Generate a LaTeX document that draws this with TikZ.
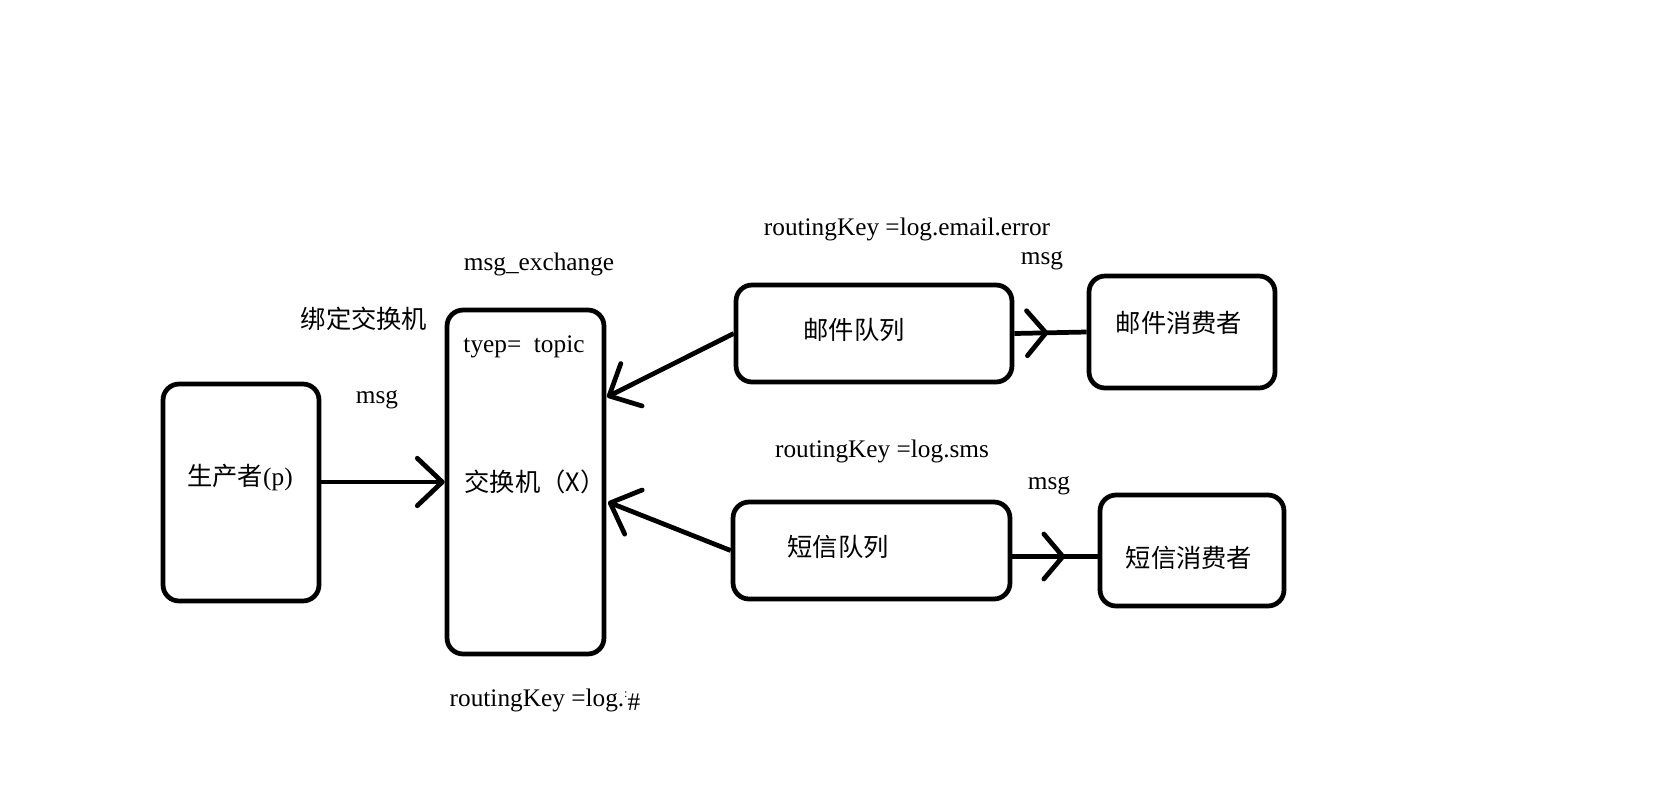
\documentclass[tikz,border=0pt]{standalone}
\usepackage{fontspec}
\setmainfont{Liberation Serif}
\newfontfamily\cjk{Noto Sans CJK SC}
\usetikzlibrary{arrows.meta,decorations.markings}

\tikzset{
  box/.style={draw, line width=2.7pt, rounded corners=0.32cm, inner sep=0pt},
  txt/.style={font=\fontsize{14.4}{16}\selectfont, inner sep=0pt},
  flow/.style={line width=2.7pt, -{Straight Barb[length=0.5cm, width=0.95cm, round]}},
  midarrow/.style={line width=2.7pt, postaction={decorate}, decoration={markings,
    mark=at position #1 with {\arrow{Straight Barb[length=0.38cm, width=0.9cm, round]}}}}
}

\begin{document}
\begin{tikzpicture}[x=0.02cm, y=-0.02cm]
  \useasboundingbox (0,0) rectangle (1653,805);

  % Boxes
  \node[box, minimum width=3.12cm, minimum height=4.34cm] (prod) at (241,492.5) {};
  \node[box, minimum width=3.14cm, minimum height=6.88cm] (exch) at (525.5,482) {};
  \node[box, minimum width=5.52cm, minimum height=1.94cm] (mailq) at (874,333.5) {};
  \node[box, minimum width=3.72cm, minimum height=2.24cm] (mailc) at (1182,332) {};
  \node[box, minimum width=5.54cm, minimum height=1.94cm] (smsq) at (871.5,550.5) {};
  \node[box, minimum width=3.68cm, minimum height=2.22cm] (smsc) at (1192,550.5) {};

  % Texts
  \node[txt] (xname) at (539,264) {msg\_exchange};
  \node[txt] (bind) at (364,319) {\cjk 绑定交换机};
  \node[txt] (pmsg) at (377,400) {msg};
  \node[txt] (ptext) at (240,478) {{\cjk 生产者}(p)};
  \node[txt] (xtype) at (524,347) {tyep=\ \ topic};
  \node[txt] (xtext) at (535,482) {\cjk 交换机（X）};
  \node[txt] (xkey) at (545,700) {routingKey =log.\raisebox{.7ex}{\scriptsize :}\raisebox{-.4ex}{\#}};
  \node[txt] (mkey) at (907,229) {routingKey =log.email.error};
  \node[txt] (mmsg) at (1042,261) {msg};
  \node[txt] (mqtext) at (854,330) {\cjk 邮件队列};
  \node[txt] (mctext) at (1179,323) {\cjk 邮件消费者};
  \node[txt] (skey) at (882,451) {routingKey =log.sms};
  \node[txt] (smsg) at (1049,486) {msg};
  \node[txt] (sqtext) at (838,547) {\cjk 短信队列};
  \node[txt] (sctext) at (1189,558) {\cjk 短信消费者};

  % Connectors
  \coordinate (xin1) at (607,397);
  \coordinate (xin2) at (608,502);
  \draw[flow] (exch.west -| prod.east) -- (exch.west);
  \draw[flow] (mailq.west) -- (xin1);
  \draw[flow] (smsq.west) -- (xin2);
  \draw[midarrow=0.47] (mailq.east) -- (mailc.west);
  \draw[midarrow=0.62] ([yshift=-0.12cm]smsq.east) -- ([yshift=-0.12cm]smsc.west);
\end{tikzpicture}
\end{document}
